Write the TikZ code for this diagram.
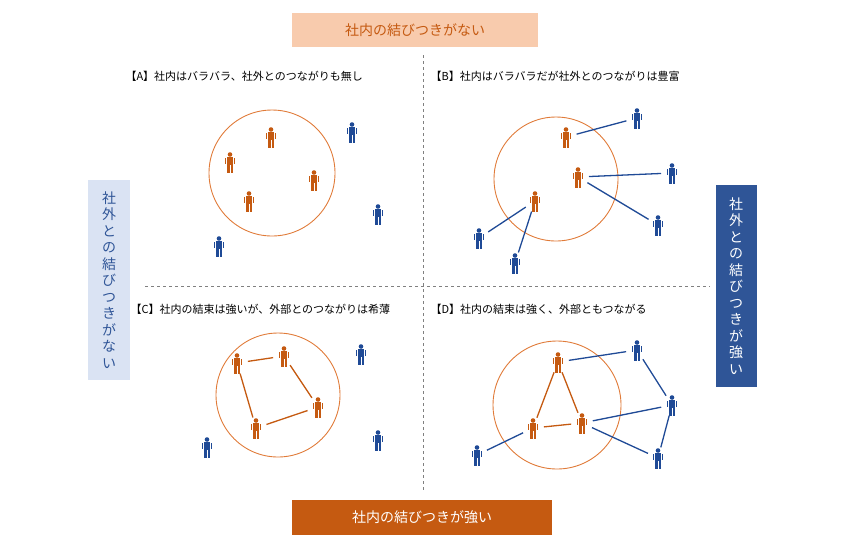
\documentclass[tikz,border=0pt]{standalone}
\usepackage{fontspec}
\setmainfont{Noto Sans CJK JP}
\definecolor{org}{HTML}{C55A11}
\definecolor{ring}{HTML}{E07B39}
\definecolor{peach}{HTML}{F8CBAD}
\definecolor{nav}{HTML}{2F5597}
\definecolor{ppl}{HTML}{1F4A96}
\definecolor{lblue}{HTML}{DAE3F3}
\tikzset{
  person/.pic={\fill[#1] (0,-7.5) circle (2.3);
    \fill[#1] (-3.2,-4.6) rectangle (3.2,2.5);
    \fill[#1] (-4.8,-4.2) rectangle (-3.6,1.5);
    \fill[#1] (3.6,-4.2) rectangle (4.8,1.5);
    \fill[#1] (-2.6,2.5) rectangle (-0.5,10.5);
    \fill[#1] (0.5,2.5) rectangle (2.6,10.5);},
  ring/.style={draw=ring,line width=0.9pt},
  ol/.style={draw=org,line width=1.3pt,shorten <=11pt,shorten >=11pt},
  bl/.style={draw=ppl,line width=1.3pt,shorten <=11pt,shorten >=11pt},
  lab/.style={anchor=west,font=\fontsize{11}{13}\selectfont},
  vt/.style={align=center,font=\fontsize{14}{16.5}\selectfont,inner sep=0pt},
}
\newcommand\pp[4]{\coordinate (#1) at (#2,#3); \pic at (#1) {person=#4};}
\begin{document}
\begin{tikzpicture}[x=1pt,y=-1pt]
\useasboundingbox (0,0) rectangle (846,550);
% banners
\node[fill=peach,text=org,minimum width=246,minimum height=34,font=\fontsize{14}{16}\selectfont] (top) at (415,30) {社内の結びつきがない};
\node[fill=org,text=white,minimum width=260,minimum height=35,font=\fontsize{14}{16}\selectfont] (bot) at (422,517) {社内の結びつきが強い};
\node[fill=lblue,text=nav,minimum width=42,minimum height=200,vt] (lft) at (109,280) {社\\外\\と\\の\\結\\び\\つ\\き\\が\\な\\い};
\node[fill=nav,text=white,minimum width=41,minimum height=202,vt] (rgt) at (736,286) {社\\外\\と\\の\\結\\び\\つ\\き\\が\\強\\い};
% dividers
\coordinate (v1) at (423,55); \coordinate (v2) at (423,490);
\coordinate (h1) at (145,286); \coordinate (h2) at (710,286);
\draw[gray,dashed] (v1) -- (v2);
\draw[gray,dashed] (h1) -- (h2);
% labels
\node[lab] (la) at (122,76) {【A】社内はバラバラ、社外とのつながりも無し};
\node[lab] (lb) at (427,76) {【B】社内はバラバラだが社外とのつながりは豊富};
\node[lab] (lc) at (127,309) {【C】社内の結束は強いが、外部とのつながりは希薄};
\node[lab] (ld) at (427,309) {【D】社内の結束は強く、外部ともつながる};
% A
\draw[ring] (272,173) circle (63);
\pp{a1}{271}{137}{org}\pp{a2}{230}{162}{org}\pp{a3}{314}{180}{org}\pp{a4}{249}{201}{org}
\pp{a5}{352}{132}{ppl}\pp{a6}{378}{214}{ppl}\pp{a7}{219}{246}{ppl}
% B
\draw[ring] (556,179) circle (62);
\pp{b1}{566}{137}{org}\pp{b2}{578}{177}{org}\pp{b3}{535}{201}{org}
\pp{b4}{637}{118}{ppl}\pp{b5}{672}{173}{ppl}\pp{b6}{658}{225}{ppl}\pp{b7}{479}{238}{ppl}\pp{b8}{515}{263}{ppl}
\draw[bl] (b1) -- (b4); \draw[bl] (b2) -- (b5); \draw[bl] (b2) -- (b6);
\draw[bl] (b3) -- (b7); \draw[bl] (b3) -- (b8);
% C
\draw[ring] (278,395) circle (62);
\pp{c1}{237}{363}{org}\pp{c2}{284}{356}{org}\pp{c3}{318}{407}{org}\pp{c4}{256}{428}{org}
\pp{c5}{361}{354}{ppl}\pp{c6}{207}{447}{ppl}\pp{c7}{378}{440}{ppl}
\draw[ol] (c1) -- (c2); \draw[ol] (c2) -- (c3); \draw[ol] (c3) -- (c4); \draw[ol] (c4) -- (c1);
% D
\draw[ring] (557,405) circle (64);
\pp{d1}{558}{362}{org}\pp{d2}{533}{428}{org}\pp{d3}{582}{423}{org}
\pp{d4}{637}{350}{ppl}\pp{d5}{672}{405}{ppl}\pp{d6}{658}{458}{ppl}\pp{d7}{477}{455}{ppl}
\draw[ol] (d1) -- (d2); \draw[ol] (d1) -- (d3); \draw[ol] (d2) -- (d3);
\draw[bl] (d1) -- (d4); \draw[bl] (d4) -- (d5); \draw[bl] (d3) -- (d5);
\draw[bl] (d5) -- (d6); \draw[bl] (d3) -- (d6); \draw[bl] (d2) -- (d7);
\end{tikzpicture}
\end{document}
